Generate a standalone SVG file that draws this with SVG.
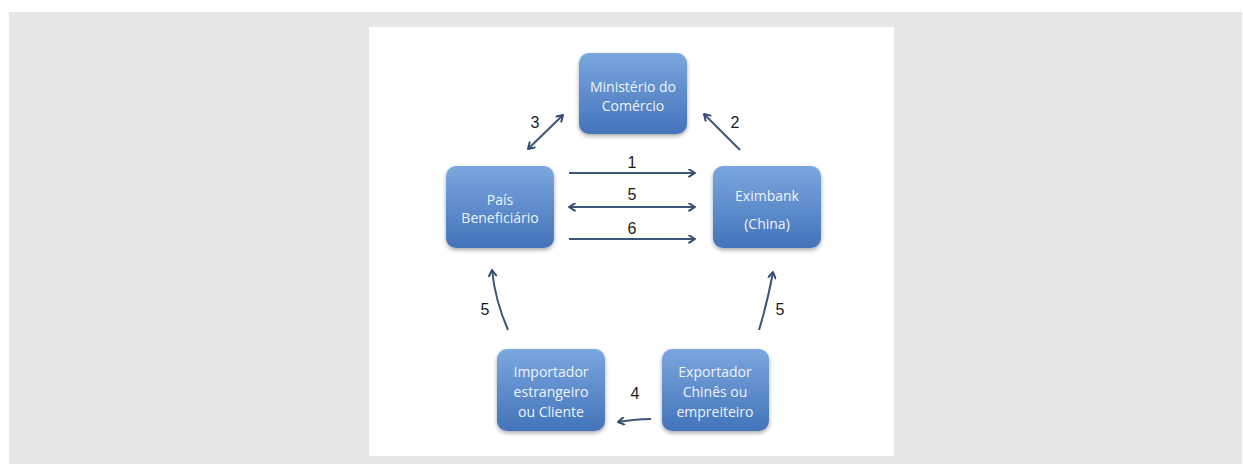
<svg xmlns="http://www.w3.org/2000/svg" width="1243" height="464" viewBox="0 0 1243 464">
<defs>
<linearGradient id="g" x1="0" y1="0" x2="0" y2="1">
<stop offset="0" stop-color="#7ba7de"/>
<stop offset="1" stop-color="#4373ba"/>
</linearGradient>
<filter id="sh" x="-20%" y="-20%" width="140%" height="150%">
<feGaussianBlur in="SourceAlpha" stdDeviation="2"/>
<feOffset dx="0" dy="2" result="b"/>
<feComponentTransfer><feFuncA type="linear" slope="0.35"/></feComponentTransfer>
<feMerge><feMergeNode/><feMergeNode in="SourceGraphic"/></feMerge>
</filter>
<marker id="ah" viewBox="0 0 10 10" refX="8" refY="5" markerWidth="9" markerHeight="9" markerUnits="userSpaceOnUse" orient="auto-start-reverse">
<path d="M1.5,1 L8,5 L1.5,9" fill="none" stroke="#344c6e" stroke-width="2.2" stroke-linecap="round" stroke-linejoin="round"/>
</marker>
<style>
.box{fill:url(#g);filter:url(#sh)}
.t{font-family:"Open Sans","Liberation Sans",sans-serif;font-size:14px;fill:#eef3fb;text-anchor:middle}
.n{font-family:"Liberation Sans",Arial,sans-serif;font-size:16px;fill:#1a1a1a;text-anchor:middle}
.c{fill:none;stroke:#3c5677;stroke-width:2;marker-end:url(#ah)}
.d{marker-start:url(#ah)}
</style>
</defs>
<rect x="0" y="0" width="1243" height="464" fill="#ffffff"/>
<rect x="9" y="12" width="1233" height="452" fill="#e6e7e8"/>
<rect x="369" y="27" width="525" height="429" fill="#ffffff"/>

<g id="ministerio">
<rect class="box" x="579" y="53" width="108" height="81" rx="10"/>
<text class="t" x="633" y="92">Ministério do</text>
<text class="t" x="633" y="111">Comércio</text>
</g>
<g id="pais">
<rect class="box" x="446" y="166" width="108" height="82" rx="10"/>
<text class="t" x="500" y="205">País</text>
<text class="t" x="500" y="223">Beneficiário</text>
</g>
<g id="eximbank">
<rect class="box" x="713" y="166" width="108" height="82" rx="10"/>
<text class="t" x="767" y="201">Eximbank</text>
<text class="t" x="767" y="229">(China)</text>
</g>
<g id="importador">
<rect class="box" x="497" y="349" width="108" height="82" rx="10"/>
<text class="t" x="551" y="377">Importador</text>
<text class="t" x="551" y="397">estrangeiro</text>
<text class="t" x="551" y="417">ou Cliente</text>
</g>
<g id="exportador">
<rect class="box" x="662" y="349" width="107" height="82" rx="10"/>
<text class="t" x="715" y="377">Exportador</text>
<text class="t" x="715" y="397">Chinês ou</text>
<text class="t" x="715" y="417">empreiteiro</text>
</g>

<g id="connectors">
<line class="c" x1="569" y1="173" x2="695" y2="173"/>
<line class="c d" x1="569" y1="207" x2="695" y2="207"/>
<line class="c" x1="569" y1="239" x2="695" y2="239"/>
<line class="c d" x1="528" y1="149" x2="563" y2="115"/>
<line class="c" x1="740" y1="150" x2="704" y2="114"/>
<path class="c" d="M508,330 Q495,300 492,270"/>
<path class="c" d="M759,330 Q768,300 773,272"/>
<path class="c" d="M651,419 Q636,419 618,422"/>
</g>
<g id="labels">
<text class="n" x="632" y="168">1</text>
<text class="n" x="632" y="200">5</text>
<text class="n" x="632" y="234">6</text>
<text class="n" x="535" y="128">3</text>
<text class="n" x="735" y="128">2</text>
<text class="n" x="485" y="315">5</text>
<text class="n" x="780" y="315">5</text>
<text class="n" x="635" y="399">4</text>
</g>
</svg>
